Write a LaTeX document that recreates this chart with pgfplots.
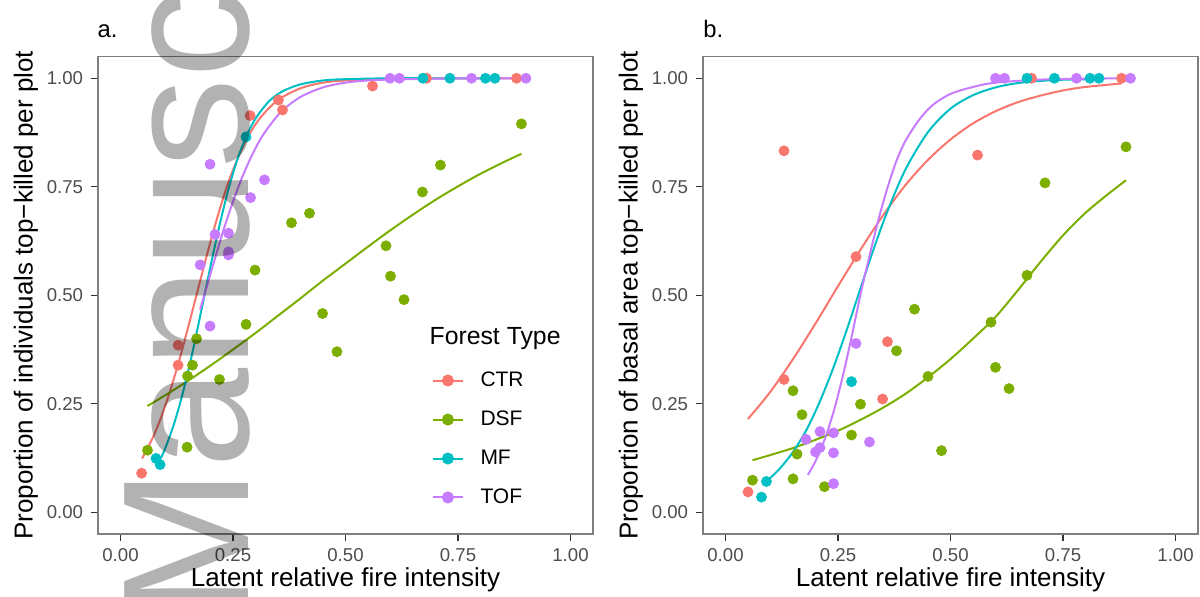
\documentclass[border=0pt]{standalone}
\usepackage{pgfplots}
\pgfplotsset{compat=1.18}
\usepackage{fontspec}
\setmainfont{Liberation Sans}
\definecolor{cCTR}{HTML}{F8766D}
\definecolor{cDSF}{HTML}{7CAE00}
\definecolor{cMF}{HTML}{00BFC4}
\definecolor{cTOF}{HTML}{C77CFF}
\definecolor{tickgray}{HTML}{4D4D4D}
\definecolor{tickdark}{HTML}{333333}
\definecolor{bordergray}{HTML}{7F7F7F}
\pgfplotsset{
  panel/.style={
    scale only axis, width=247.5pt, height=238.7pt,
    xmin=-0.05, xmax=1.05, ymin=-0.05, ymax=1.05,
    xtick={0,0.25,0.5,0.75,1}, ytick={0,0.25,0.5,0.75,1},
    xticklabels={0.00,0.25,0.50,0.75,1.00},
    yticklabels={0.00,0.25,0.50,0.75,1.00},
    tick align=outside, tick pos=left,
    major tick length=3.6pt,
    every tick/.style={tickdark, line width=0.55pt},
    axis line style={bordergray, line width=0.55pt},
    ticklabel style={font=\fontsize{9.3}{11}\selectfont, text=tickgray, inner sep=0pt},
    xticklabel shift=3.7pt, yticklabel shift=3.7pt,
    /pgf/number format/assume math mode=true,
    every axis x label/.style={at={(axis description cs:0.5,-0.111)}, anchor=base, font=\fontsize{13}{15}\selectfont, inner sep=0pt},
    every axis y label/.style={at={(axis description cs:-0.132,0.5)}, anchor=base, rotate=90, font=\fontsize{13}{15}\selectfont, inner sep=0pt},
  },
  curve/.style={line width=1pt, no marks, smooth, forget plot},
  pts/.style={only marks, mark=*, mark size=2.5pt, forget plot},
}
\begin{document}
\begin{tikzpicture}
\useasboundingbox (0,0) rectangle (600pt,298.5pt);
% ---------------- panel a ----------------
\begin{axis}[panel, at={(49pt,31.5pt)}, anchor=south west,
  xlabel={Latent relative fire intensity},
  ylabel={Proportion of individuals top−killed per plot},
  legend style={at={(axis cs:0.692,0.324)}, anchor=north west, draw=none, fill=none,
    inner sep=0pt, outer sep=0pt, font=\fontsize{10.5}{12}\selectfont,
    row sep=10.7pt, nodes={inner sep=0pt}},
  legend cell align=left,
  legend image code/.code={\draw[mark repeat=2,mark phase=2] plot coordinates {(0pt,0pt)(7.5pt,0pt)(15pt,0pt)}; \path (23.3pt,0pt);},
]
\addplot[curve, cCTR] coordinates {(0.048,0.124)(0.07,0.168)(0.09,0.218)(0.11,0.279)(0.13,0.348)(0.15,0.425)(0.17,0.505)(0.19,0.585)(0.21,0.661)(0.23,0.730)(0.25,0.789)(0.28,0.859)(0.31,0.908)(0.35,0.950)(0.40,0.977)(0.45,0.990)(0.50,0.995)(0.60,0.999)(0.70,1.0)(0.80,1.0)(0.88,1.0)};
\addplot[curve, cDSF] coordinates {(0.06,0.245)(0.10,0.270)(0.15,0.303)(0.20,0.338)(0.25,0.375)(0.30,0.413)(0.35,0.453)(0.40,0.493)(0.45,0.534)(0.50,0.573)(0.55,0.612)(0.60,0.650)(0.65,0.686)(0.70,0.720)(0.75,0.751)(0.80,0.780)(0.85,0.806)(0.891,0.826)};
\addplot[curve, cMF] coordinates {(0.089,0.123)(0.10,0.149)(0.12,0.207)(0.14,0.281)(0.16,0.369)(0.18,0.467)(0.20,0.567)(0.22,0.661)(0.24,0.745)(0.26,0.814)(0.28,0.867)(0.30,0.907)(0.33,0.947)(0.36,0.970)(0.40,0.986)(0.45,0.995)(0.50,0.998)(0.60,1.0)(0.70,1.0)(0.832,1.0)};
\addplot[curve, cTOF] coordinates {(0.177,0.467)(0.19,0.514)(0.21,0.585)(0.23,0.654)(0.25,0.716)(0.27,0.771)(0.29,0.818)(0.31,0.858)(0.33,0.889)(0.36,0.926)(0.40,0.957)(0.45,0.979)(0.50,0.990)(0.55,0.995)(0.60,0.997)(0.70,0.999)(0.80,1.0)(0.901,1.0)};
\addplot[pts, cCTR] coordinates {(0.047,0.090)(0.128,0.339)(0.128,0.385)(0.288,0.914)(0.351,0.950)(0.360,0.927)(0.560,0.982)(0.680,1.0)(0.880,1.0)};
\addplot[pts, cDSF] coordinates {(0.06,0.143)(0.148,0.150)(0.149,0.314)(0.16,0.339)(0.169,0.400)(0.22,0.306)(0.279,0.433)(0.299,0.558)(0.38,0.667)(0.42,0.689)(0.449,0.458)(0.481,0.370)(0.59,0.614)(0.60,0.544)(0.63,0.490)(0.671,0.738)(0.711,0.800)(0.891,0.895)};
\addplot[pts, cMF] coordinates {(0.079,0.124)(0.088,0.110)(0.279,0.865)(0.672,1.0)(0.732,1.0)(0.811,1.0)(0.832,1.0)};
\addplot[pts, cTOF] coordinates {(0.177,0.570)(0.199,0.802)(0.199,0.429)(0.21,0.640)(0.24,0.643)(0.24,0.593)(0.24,0.600)(0.289,0.725)(0.32,0.766)(0.599,1.0)(0.62,1.0)(0.78,1.0)(0.901,1.0)};
\addlegendimage{cCTR, line width=1pt, mark=*, mark size=2.5pt}
\addlegendentry{CTR}
\addlegendimage{cDSF, line width=1pt, mark=*, mark size=2.5pt}
\addlegendentry{DSF}
\addlegendimage{cMF, line width=1pt, mark=*, mark size=2.5pt}
\addlegendentry{MF}
\addlegendimage{cTOF, line width=1pt, mark=*, mark size=2.5pt}
\addlegendentry{TOF}
\node[anchor=base west, inner sep=0pt, font=\fontsize{12.4}{14}\selectfont] at (axis cs:0.686,0.387) {Forest Type};
\end{axis}
% ---------------- panel b ----------------
\begin{axis}[panel, at={(351.5pt,31.5pt)}, anchor=south west,
  xlabel={Latent relative fire intensity},
  ylabel={Proportion of basal area top−killed per plot},
]
\addplot[curve, cCTR] coordinates {(0.05,0.215)(0.10,0.278)(0.15,0.353)(0.20,0.435)(0.25,0.521)(0.30,0.605)(0.35,0.684)(0.40,0.754)(0.45,0.812)(0.50,0.859)(0.55,0.896)(0.60,0.924)(0.65,0.945)(0.70,0.960)(0.75,0.972)(0.80,0.980)(0.88,0.988)};
\addplot[curve, cDSF] coordinates {(0.06,0.120)(0.10,0.132)(0.15,0.148)(0.20,0.167)(0.25,0.188)(0.30,0.213)(0.35,0.241)(0.40,0.273)(0.45,0.311)(0.50,0.353)(0.55,0.400)(0.60,0.450)(0.65,0.512)(0.70,0.577)(0.75,0.638)(0.80,0.690)(0.85,0.733)(0.89,0.765)};
\addplot[curve, cMF] coordinates {(0.09,0.070)(0.12,0.100)(0.15,0.139)(0.18,0.190)(0.21,0.256)(0.24,0.334)(0.27,0.422)(0.30,0.516)(0.33,0.609)(0.36,0.694)(0.40,0.790)(0.45,0.876)(0.50,0.930)(0.55,0.961)(0.60,0.979)(0.65,0.989)(0.70,0.994)(0.76,0.997)(0.83,0.998)};
\addplot[curve, cTOF] coordinates {(0.183,0.086)(0.20,0.118)(0.22,0.167)(0.24,0.231)(0.26,0.311)(0.28,0.403)(0.30,0.502)(0.32,0.591)(0.34,0.675)(0.36,0.748)(0.38,0.810)(0.40,0.856)(0.43,0.904)(0.46,0.938)(0.50,0.964)(0.55,0.980)(0.60,0.990)(0.70,0.997)(0.80,0.999)(0.90,1.0)};
\addplot[pts, cCTR] coordinates {(0.05,0.047)(0.13,0.306)(0.13,0.833)(0.29,0.589)(0.349,0.261)(0.36,0.393)(0.56,0.823)(0.68,1.0)(0.88,1.0)};
\addplot[pts, cDSF] coordinates {(0.06,0.074)(0.15,0.280)(0.15,0.077)(0.159,0.134)(0.17,0.225)(0.22,0.059)(0.28,0.178)(0.30,0.249)(0.38,0.372)(0.42,0.468)(0.45,0.313)(0.48,0.142)(0.59,0.438)(0.60,0.334)(0.63,0.285)(0.67,0.546)(0.71,0.759)(0.89,0.842)};
\addplot[pts, cMF] coordinates {(0.08,0.035)(0.091,0.071)(0.28,0.301)(0.67,1.0)(0.731,1.0)(0.81,1.0)(0.83,1.0)};
\addplot[pts, cTOF] coordinates {(0.179,0.168)(0.20,0.139)(0.21,0.186)(0.21,0.149)(0.24,0.183)(0.24,0.137)(0.24,0.066)(0.29,0.389)(0.32,0.162)(0.60,1.0)(0.62,1.0)(0.78,1.0)(0.90,1.0)};
\end{axis}
% panel tags
\node[anchor=base west, inner sep=0pt, font=\fontsize{11.9}{13}\selectfont] at (48.65pt,279.85pt) {a.};
\node[anchor=base west, inner sep=0pt, font=\fontsize{11.9}{13}\selectfont] at (351.5pt,279.85pt) {b.};
% watermark
\begin{scope}
\clip (0,0) rectangle (600pt,298.5pt);
\node[rotate=90, anchor=base west, inner sep=0pt, text=black, text opacity=0.3, font=\fontsize{90}{90}\selectfont] at (124pt,-11pt) {Manuscript};
\end{scope}
\end{tikzpicture}
\end{document}
